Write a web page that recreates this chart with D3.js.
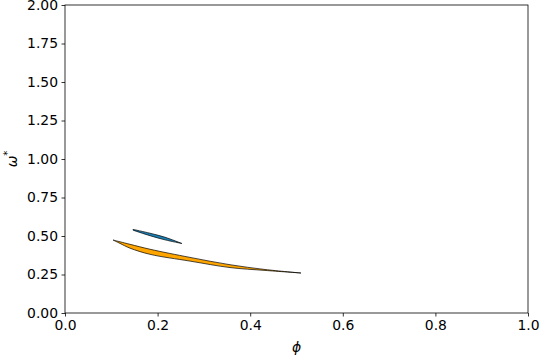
<!DOCTYPE html>
<html><head><meta charset="utf-8">
<script src="https://cdn.jsdelivr.net/npm/d3@7"></script>
<style>body{margin:0;background:#fff}svg{display:block}text{font-family:"DejaVu Sans",sans-serif}</style>
</head><body>
<script>
// Orange region (phi, upper and lower omega*)
const orangePhi   = [0.1037, 0.1188, 0.1404, 0.1836, 0.2700, 0.3564, 0.4320, 0.5097];
const orangeUpper = [0.474, 0.4625, 0.4460, 0.4140, 0.3610, 0.3135, 0.2825, 0.2597];
const orangeLower = [0.474, 0.4520, 0.4210, 0.3810, 0.3370, 0.2950, 0.2765, 0.2597];
// Blue region
const bluePhi   = [0.1469, 0.1836, 0.2160, 0.2527];
const blueUpper = [0.543, 0.518, 0.492, 0.451];
const blueLower = [0.538, 0.502, 0.475, 0.451];
const xTicks = [0.0, 0.2, 0.4, 0.6, 0.8, 1.0];
const yTicks = [0.00, 0.25, 0.50, 0.75, 1.00, 1.25, 1.50, 1.75, 2.00];

const W = 540, H = 360;
const m = {l: 65, r: 12, t: 5, b: 47};
const svg = d3.select("body").append("svg").attr("width", W).attr("height", H);
const x = d3.scaleLinear().domain([0, 1]).range([m.l, W - m.r]);
const y = d3.scaleLinear().domain([0, 2]).range([H - m.b, m.t]);

function region(phi, up, lo, fill) {
  const line = d3.line().x(d => x(d[0])).y(d => y(d[1])).curve(d3.curveCatmullRom.alpha(0.5));
  const upPts = phi.map((p, i) => [p, up[i]]);
  const loPts = phi.map((p, i) => [p, lo[i]]).reverse();
  const d = line(upPts) + "L" + line(loPts).slice(1) + "Z";
  svg.append("path").attr("d", d)
    .attr("fill", fill).attr("stroke", "#000").attr("stroke-width", 0.7).attr("stroke-linejoin", "round");
}
region(orangePhi, orangeUpper, orangeLower, "#ffa500");
region(bluePhi, blueUpper, blueLower, "#1b80b4");

const fs = "13.9px";
const xa = svg.append("g").attr("transform", `translate(0,${H - m.b})`)
  .call(d3.axisBottom(x).tickValues(xTicks).tickFormat(d3.format(".1f")).tickSizeOuter(0).tickSize(3.5).tickPadding(3.5));
const ya = svg.append("g").attr("transform", `translate(${m.l},0)`)
  .call(d3.axisLeft(y).tickValues(yTicks).tickFormat(d3.format(".2f")).tickSizeOuter(0).tickSize(3.5).tickPadding(3.5));
[xa, ya].forEach(g => {
  g.select(".domain").remove();
  g.selectAll("line").attr("stroke", "#000").attr("stroke-width", 0.8);
  g.selectAll("text").attr("fill", "#000").style("font-size", fs).style("font-family", "DejaVu Sans");
});
svg.append("rect").attr("x", m.l).attr("y", m.t).attr("width", W - m.r - m.l).attr("height", H - m.b - m.t)
  .attr("fill", "none").attr("stroke", "#000").attr("stroke-width", 0.8);

svg.append("text").attr("x", (m.l + W - m.r) / 2).attr("y", 352).attr("text-anchor", "middle")
  .style("font-size", fs).style("font-style", "italic").text("ϕ");
const yl = svg.append("text").attr("transform", `translate(17,${(m.t + H - m.b) / 2}) rotate(-90)`)
  .attr("text-anchor", "middle").style("font-size", fs);
yl.append("tspan").style("font-style", "italic").text("ω");
yl.append("tspan").attr("dy", -6).style("font-size", "10px").text("*");
</script>
</body></html>
